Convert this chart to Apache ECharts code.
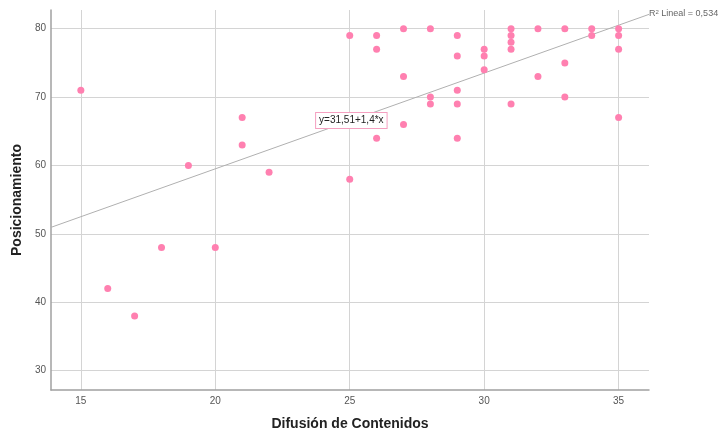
<!DOCTYPE html>
<html>
<head>
<meta charset="utf-8">
<script src="https://cdn.jsdelivr.net/npm/echarts@6/dist/echarts.min.js"></script>
<style>html,body{margin:0;padding:0;background:#fff}#c{width:719px;height:431px}</style>
</head>
<body>
<div id="c"></div>
<script>
const difusion = [15,16,17,18,19,20,21,21,22,25,25,26,26,26,27,27,27,28,28,28,29,29,29,29,29,30,30,30,31,31,31,31,31,32,32,33,33,33,34,34,35,35,35,35];
const posicionamiento = [71,42,38,48,60,48,67,63,59,79,58,79,77,64,80,73,66,80,70,69,79,76,71,69,64,77,76,74,80,79,78,77,69,80,73,80,75,70,80,79,80,79,77,67];
const fitIntercept = 31.51;
const fitSlope = 1.4;
const fitLabel = 'y=31,51+1,4*x';
const r2Label = 'Lineal = 0,534';
const xTicks = [15,20,25,30,35];
const yTicks = [30,40,50,60,70,80];

const xMin = 13.89, xMax = 36.13, yMin = 27.18, yMax = 82.73;
const points = difusion.map((x,i)=>[x, posicionamiento[i]]);
const fit = x => fitIntercept + fitSlope*x;
const labelX = 25.06;

const chart = echarts.init(document.getElementById('c'), null, {renderer:'canvas'});
const FONT = 'Liberation Sans, Arial, sans-serif';
chart.setOption({
  animation:false,
  textStyle:{fontFamily:FONT},
  grid:{left:51,right:70,top:10,bottom:41,containLabel:false,outerBoundsMode:'none'},
  xAxis:{
    type:'value',min:xMin,max:xMax,
    name:'Difusión de Contenidos',nameLocation:'middle',nameGap:27,
    nameTextStyle:{fontSize:14,fontWeight:'bold',color:'#222',fontFamily:FONT},
    axisLine:{show:true,onZero:false,lineStyle:{color:'#a0a0a0',width:1.5}},
    axisTick:{show:false,customValues:xTicks},
    axisLabel:{color:'#555',fontSize:10,margin:6,fontFamily:FONT,
      customValues:xTicks, formatter:v=>String(v)},
    splitLine:{show:true,lineStyle:{color:'#d4d4d4',width:1}}
  },
  yAxis:{
    type:'value',min:yMin,max:yMax,
    name:'Posicionamiento',nameLocation:'middle',nameGap:22,
    nameTextStyle:{fontSize:14,fontWeight:'bold',color:'#222',fontFamily:FONT},
    axisLine:{show:true,onZero:false,lineStyle:{color:'#a0a0a0',width:1.5}},
    axisTick:{show:false,customValues:yTicks},
    axisLabel:{color:'#555',fontSize:10,margin:5,fontFamily:FONT,
      customValues:yTicks, formatter:v=>String(v)},
    splitLine:{show:true,lineStyle:{color:'#d4d4d4',width:1}}
  },
  series:[
    {
      type:'line',
      data:[[xMin,fit(xMin)],[xMax,fit(xMax)]],
      symbol:'none',
      lineStyle:{color:'#b0b0b0',width:1},
      z:2,
      markPoint:{
        symbol:'circle',symbolSize:0,
        data:[{coord:[labelX,fit(labelX)],
          label:{show:true,formatter:fitLabel,position:'inside',
            color:'#222',fontSize:10,fontFamily:FONT,
            backgroundColor:'#fff',borderColor:'#f5a0c0',borderWidth:1,
            padding:[3,3,2,3]}}]
      }
    },
    {
      type:'scatter',
      data:points,
      symbolSize:7,
      itemStyle:{color:'#ff80b0',opacity:1},
      z:3
    }
  ],
  graphic:[{
    type:'text',left:649,top:9,
    style:{
      rich:{
        r:{fontSize:9,fill:'#666',fontFamily:FONT},
        s:{fontSize:6,fill:'#666',fontFamily:FONT,verticalAlign:'top',padding:[0,0,4,0]}
      },
      text:'{r|R}{s|2}{r| '+r2Label+'}'
    }
  }]
});
</script>
</body>
</html>
